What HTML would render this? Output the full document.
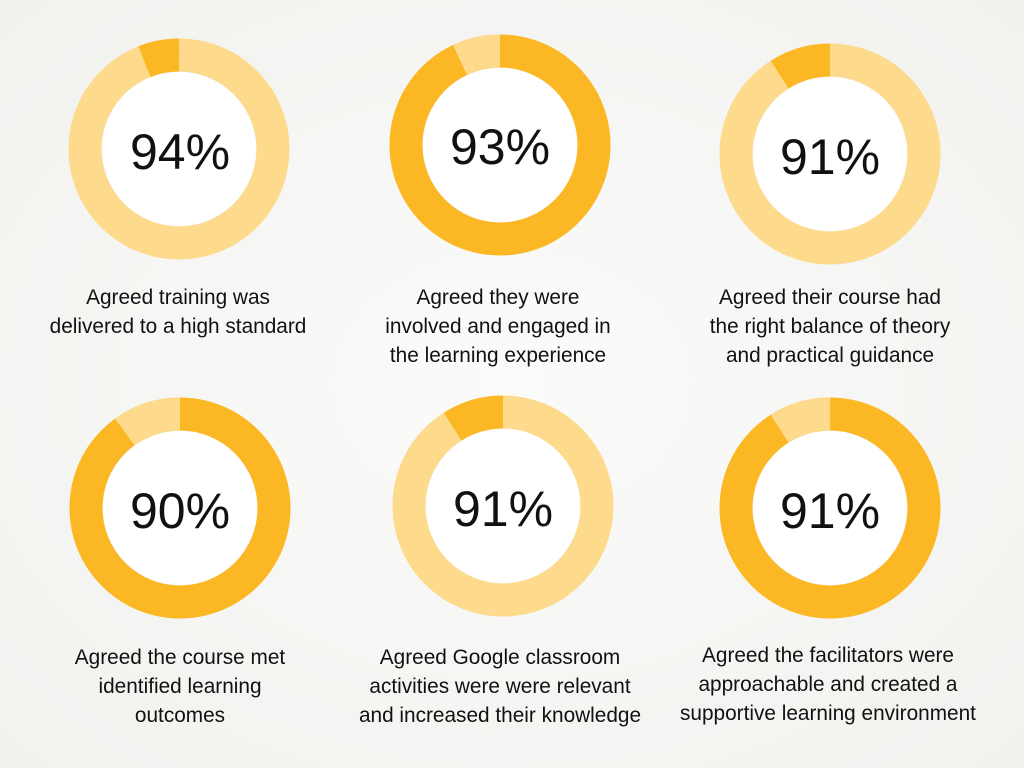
<!DOCTYPE html>
<html><head><meta charset="utf-8"><style>
html,body{margin:0;padding:0;background:#f6f6f4;}
svg{display:block}
text{font-family:"Liberation Sans",sans-serif;fill:#111;}
.p{font-size:50px;text-anchor:middle;dominant-baseline:central}
.l{font-size:20.8px;text-anchor:middle}
</style></head><body>
<svg width="1024" height="768" viewBox="0 0 1024 768">
<rect width="1024" height="768" fill="#f6f6f4"/>
<defs>
<radialGradient id="bg" cx="50%" cy="50%" r="70%"><stop offset="0" stop-color="#fbfbfa"/><stop offset="1" stop-color="#f1f1ee"/></radialGradient>
</defs>
<rect width="1024" height="768" fill="url(#bg)"/>
<g fill="none" stroke-width="33">
 <g transform="translate(179,149) rotate(-90)">
  <circle r="94" stroke="#fdda8c"/>
  <circle r="94" stroke="#fbb824" stroke-dasharray="35.4 600" transform="rotate(-21.6)"/>
 </g>
 <g transform="translate(500,145) rotate(-90)">
  <circle r="94" stroke="#fbb824"/>
  <circle r="94" stroke="#fdda8c" stroke-dasharray="41.3 600" transform="rotate(-25.2)"/>
 </g>
 <g transform="translate(830,154) rotate(-90)">
  <circle r="94" stroke="#fdda8c"/>
  <circle r="94" stroke="#fbb824" stroke-dasharray="53.2 600" transform="rotate(-32.4)"/>
 </g>
 <g transform="translate(180,508) rotate(-90)">
  <circle r="94" stroke="#fbb824"/>
  <circle r="94" stroke="#fdda8c" stroke-dasharray="59.1 600" transform="rotate(-36)"/>
 </g>
 <g transform="translate(503,506) rotate(-90)">
  <circle r="94" stroke="#fdda8c"/>
  <circle r="94" stroke="#fbb824" stroke-dasharray="53.2 600" transform="rotate(-32.4)"/>
 </g>
 <g transform="translate(830,508) rotate(-90)">
  <circle r="94" stroke="#fbb824"/>
  <circle r="94" stroke="#fdda8c" stroke-dasharray="53.2 600" transform="rotate(-32.4)"/>
 </g>
</g>
<g fill="#fff">
 <circle cx="179" cy="149" r="77"/><circle cx="500" cy="145" r="77"/><circle cx="830" cy="154" r="77"/>
 <circle cx="180" cy="508" r="77"/><circle cx="503" cy="506" r="77"/><circle cx="830" cy="508" r="77"/>
</g>
<text class="p" x="180" y="152">94%</text>
<text class="p" x="500" y="147">93%</text>
<text class="p" x="830" y="157">91%</text>
<text class="p" x="180" y="511">90%</text>
<text class="p" x="503" y="509">91%</text>
<text class="p" x="830" y="511">91%</text>

<text class="l" x="178" y="304">Agreed training was</text>
<text class="l" x="178" y="333">delivered to a high standard</text>

<text class="l" x="498" y="304">Agreed they were</text>
<text class="l" x="498" y="333">involved and engaged in</text>
<text class="l" x="498" y="362">the learning experience</text>

<text class="l" x="830" y="304">Agreed their course had</text>
<text class="l" x="830" y="333">the right balance of theory</text>
<text class="l" x="830" y="362">and practical guidance</text>

<text class="l" x="180" y="664">Agreed the course met</text>
<text class="l" x="180" y="693">identified learning</text>
<text class="l" x="180" y="722">outcomes</text>

<text class="l" x="500" y="664">Agreed Google classroom</text>
<text class="l" x="500" y="693">activities were were relevant</text>
<text class="l" x="500" y="722">and increased their knowledge</text>

<text class="l" x="828" y="662">Agreed the facilitators were</text>
<text class="l" x="828" y="691">approachable and created a</text>
<text class="l" x="828" y="720">supportive learning environment</text>
</svg>
</body></html>
